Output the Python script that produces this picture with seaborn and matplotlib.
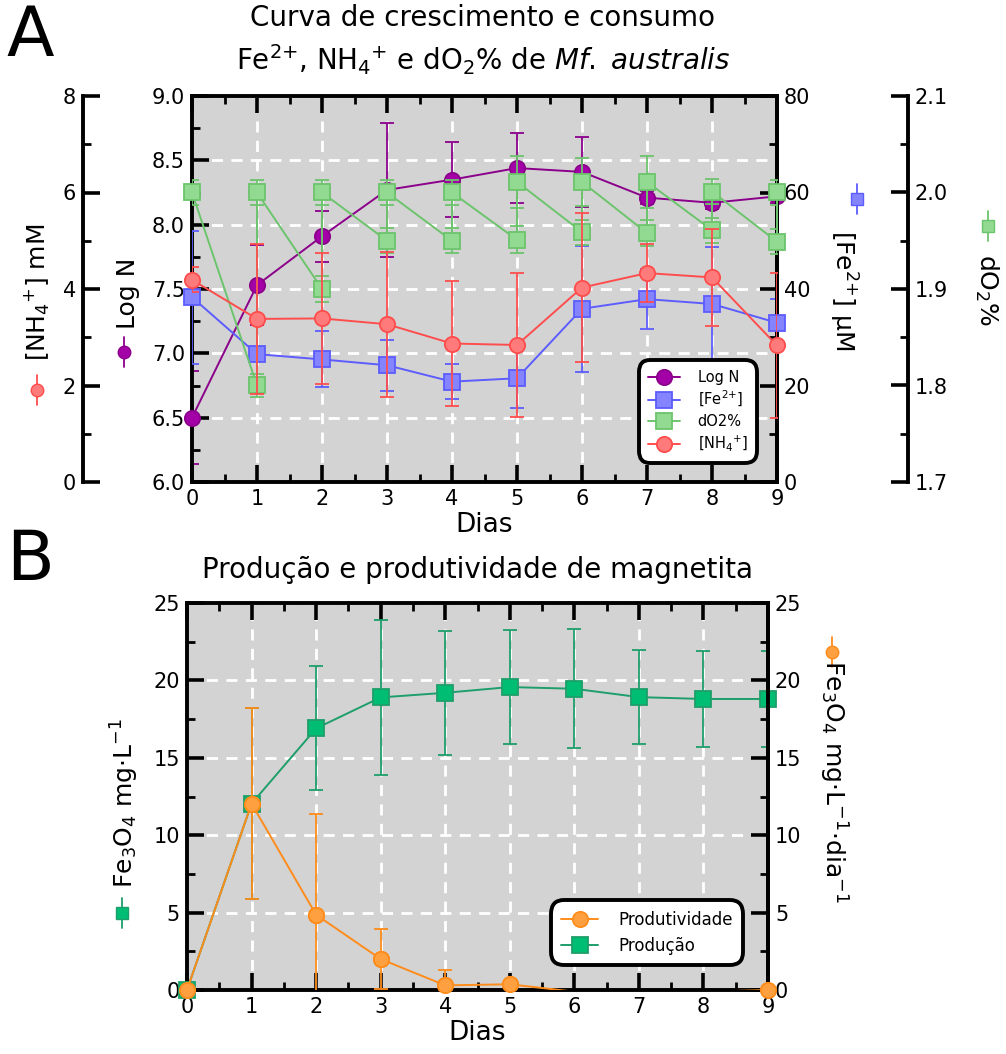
import numpy as np
import matplotlib
matplotlib.use("Agg")
import matplotlib.pyplot as plt
from matplotlib.lines import Line2D
from matplotlib.ticker import MultipleLocator, FormatStrFormatter
import seaborn as sns

# ---------------- data ----------------
dias = [0, 1, 2, 3, 4, 5, 6, 7, 8, 9]

log_n = [6.50, 7.53, 7.91, 8.27, 8.35, 8.44, 8.41, 8.21, 8.17, 8.22]
log_n_err = [0.36, 0.31, 0.20, 0.52, 0.29, 0.27, 0.27, 0.05, 0.05, 0.05]

fe = [38.3, 26.5, 25.4, 24.2, 20.8, 21.5, 35.9, 37.9, 36.9, 33.0]
fe_err = [13.8, 7.0, 5.8, 5.3, 3.6, 6.2, 13.0, 6.2, 11.8, 5.0]

# dissolved O2 read before and after each daily renewal
dias_o2 = [0, 1, 1, 2, 2, 3, 3, 4, 4, 5, 5, 6, 6, 7, 7, 8, 8, 9, 9]
do2 = [2.000, 1.800, 2.000, 1.900, 2.000, 1.950, 2.000, 1.950, 2.000,
       1.951, 2.011, 1.959, 2.011, 1.958, 2.011, 1.961, 2.001, 1.949, 2.000]
do2_err = [0.013, 0.012, 0.013, 0.013, 0.013, 0.013, 0.013, 0.013, 0.013,
           0.014, 0.027, 0.013, 0.025, 0.013, 0.027, 0.013, 0.013, 0.013, 0.013]

nh4 = [4.19, 3.38, 3.39, 3.27, 2.87, 2.84, 4.03, 4.33, 4.24, 2.83]
nh4_err = [0.26, 1.56, 1.35, 1.50, 1.30, 1.50, 1.55, 0.60, 1.00, 1.50]

producao = [0.0, 12.04, 16.9, 18.9, 19.2, 19.57, 19.46, 18.92, 18.8, 18.8]
producao_err = [0.0, 6.15, 4.0, 5.0, 4.0, 3.7, 3.85, 3.05, 3.1, 3.1]

produtividade = [0.0, 12.04, 4.86, 2.0, 0.3, 0.37, -0.11, -0.54, -0.12, 0.0]
produtividade_err = [0.0, 6.15, 6.5, 1.95, 1.0, 0.0, 0.0, 0.0, 0.0, 0.0]

# ---------------- style ----------------
sns.set_theme(style="ticks")
plt.rcParams["font.family"] = ["DejaVu Sans"]
plt.rcParams["mathtext.fontset"] = "dejavusans"
for key in ["text.color", "axes.labelcolor", "xtick.color", "ytick.color",
            "axes.edgecolor"]:
    plt.rcParams[key] = "black"

W, H = 1006, 1054
fig = plt.figure(figsize=(W / 100, H / 100), dpi=100, facecolor="white")

BG = "#d3d3d3"
C_LOG = ("#a400a8", "#8b008b")
C_FE = ("#8484ff", "#5c5cff")
C_O2 = ("#92d992", "#6cc46c")
C_NH = ("#ff7a7a", "#ff4d4d")
C_PROD = ("#00bd74", "#1e9e6a")
C_PTV = ("#ffa040", "#ff8c1a")

SPINE_W = 2.8
TICK_FS = 15


def fx(x):
    return x / W


def fy(y):
    return 1 - y / H


def style_ticks(ax, **kw):
    ax.tick_params(which="major", direction="in", length=12, width=2.6,
                   labelsize=TICK_FS, pad=5, colors="black", **kw)
    ax.tick_params(which="minor", direction="in", length=6, width=2.0, **kw)


def series(ax, x, y, err, colors, marker, label, sort=True):
    face, edge = colors
    ax.errorbar(x, y, yerr=err, fmt="none", ecolor=edge, elinewidth=1.3,
                capsize=5, capthick=1.3, zorder=2)
    sns.lineplot(x=x, y=y, ax=ax, estimator=None, sort=sort, legend=False,
                 color=edge, linewidth=1.4, marker=marker, markersize=11,
                 markerfacecolor=face, markeredgecolor=edge,
                 markeredgewidth=1.3, label=label, clip_on=False, zorder=3)


def side_label(text, x, y, rot, mx, my, colors, marker, size=18):
    face, edge = colors
    fig.text(fx(x), fy(y), text, rotation=rot, ha="center", va="center",
             fontsize=size, color="black")
    fig.add_artist(Line2D([fx(mx), fx(mx)], [fy(my - 15), fy(my + 15)],
                          transform=fig.transFigure, color=edge, lw=1.3))
    fig.add_artist(Line2D([fx(mx)], [fy(my)], transform=fig.transFigure,
                          marker=marker, ms=9, mfc=face, mec=edge, mew=1.0,
                          linestyle="none"))


def legend_box(ax, handles, labels, anchor, fs, spacing):
    leg = ax.legend(handles, labels, loc="lower right", bbox_to_anchor=anchor,
                    bbox_transform=ax.transAxes, borderaxespad=0, fontsize=fs,
                    frameon=True, fancybox=True, framealpha=1,
                    facecolor="white", edgecolor="black", handlelength=2.2,
                    handletextpad=1.2, labelspacing=spacing, borderpad=0.45)
    leg.get_frame().set_linewidth(2.8)
    leg.get_frame().set_boxstyle("round", pad=0.2, rounding_size=0.8)
    leg.set_zorder(10)
    return leg


# ================= panel A =================
axA = fig.add_axes([192 / W, 1 - 482 / H, 585 / W, 386 / H])
axA.set_facecolor(BG)
axA.set_axisbelow(True)
axA.set_xlim(0, 9)
axA.set_ylim(6.0, 9.0)
axA.xaxis.set_major_locator(MultipleLocator(1))
axA.xaxis.set_minor_locator(MultipleLocator(0.5))
axA.yaxis.set_major_locator(MultipleLocator(0.5))
axA.yaxis.set_minor_locator(MultipleLocator(0.25))
axA.yaxis.set_major_formatter(FormatStrFormatter("%.1f"))
axA.grid(True, which="major", color="white", linestyle=(0, (4, 3)), linewidth=2.0)
style_ticks(axA, top=True, bottom=True, left=True, right=False)
for s in axA.spines.values():
    s.set_linewidth(SPINE_W)
    s.set_color("black")
axA.set_xlabel("Dias", fontsize=19, labelpad=2)

axFe = axA.twinx()
axFe.set_ylim(0, 80)
axFe.yaxis.set_major_locator(MultipleLocator(20))
axFe.yaxis.set_minor_locator(MultipleLocator(10))
style_ticks(axFe, right=True, left=False)
for k in ["top", "bottom", "left"]:
    axFe.spines[k].set_visible(False)
axFe.spines["right"].set_linewidth(SPINE_W)

axO2 = axA.twinx()
axO2.set_ylim(1.7, 2.1)
axO2.spines["right"].set_position(("axes", 1.224))
axO2.yaxis.set_major_locator(MultipleLocator(0.1))
axO2.yaxis.set_minor_locator(MultipleLocator(0.05))
axO2.yaxis.set_major_formatter(FormatStrFormatter("%.1f"))
style_ticks(axO2, right=True, left=False)
for k in ["top", "bottom", "left"]:
    axO2.spines[k].set_visible(False)
axO2.spines["right"].set_linewidth(SPINE_W)

axNH = axA.twinx()
axNH.set_ylim(0, 8)
axNH.yaxis.tick_left()
axNH.spines["left"].set_position(("axes", -0.186))
axNH.spines["left"].set_visible(True)
axNH.yaxis.set_major_locator(MultipleLocator(2))
axNH.yaxis.set_minor_locator(MultipleLocator(1))
style_ticks(axNH, left=True, right=False)
for k in ["top", "bottom", "right"]:
    axNH.spines[k].set_visible(False)
axNH.spines["left"].set_linewidth(SPINE_W)

series(axA, dias, log_n, log_n_err, C_LOG, "o", "Log N")
series(axFe, dias, fe, fe_err, C_FE, "s", "[Fe$^{2{+}}$]")
series(axO2, dias_o2, do2, do2_err, C_O2, "s", "dO2%", sort=False)
series(axNH, dias, nh4, nh4_err, C_NH, "o", "[NH$_4$$^{+}$]")

hA = []
lA = []
for a in (axA, axFe, axO2, axNH):
    h, l = a.get_legend_handles_labels()
    hA += h
    lA += l
legend_box(axNH, hA, lA, (0.961, 0.057), 10.5, 0.32)

fig.text(fx(30), fy(36), "A", fontsize=50, ha="center", va="center")
fig.text(fx(483), fy(18), "Curva de crescimento e consumo", fontsize=20,
         ha="center", va="center")
fig.text(fx(483), fy(60),
         r"Fe$^{2{+}}$, NH$_4$$^{+}$ e dO$_2$% de $\mathit{Mf.}$ $\mathit{australis}$",
         fontsize=20, ha="center", va="center")

side_label("Log N", 128, 293, 90, 124, 352, C_LOG, "o")
side_label("[NH$_4$$^{+}$] mM", 37, 292, 90, 37, 390, C_NH, "o")
side_label("[Fe$^{2{+}}$] µM", 843, 290, 270, 857, 199, C_FE, "s")
side_label("dO$_2$%", 987, 290, 270, 988, 226, C_O2, "s")

# ================= panel B =================
axB = fig.add_axes([187 / W, 1 - 990 / H, 581 / W, 387 / H])
axB.set_facecolor(BG)
axB.set_axisbelow(True)
axB.set_xlim(0, 9)
axB.set_ylim(0, 25)
axB.xaxis.set_major_locator(MultipleLocator(1))
axB.xaxis.set_minor_locator(MultipleLocator(0.5))
axB.yaxis.set_major_locator(MultipleLocator(5))
axB.yaxis.set_minor_locator(MultipleLocator(2.5))
axB.grid(True, which="major", color="white", linestyle=(0, (4, 3)), linewidth=2.0)
style_ticks(axB, top=True, bottom=True, left=True, right=False)
for s in axB.spines.values():
    s.set_linewidth(SPINE_W)
    s.set_color("black")
axB.set_xlabel("Dias", fontsize=19, labelpad=2)

axP = axB.twinx()
axP.set_ylim(0, 25)
axP.yaxis.set_major_locator(MultipleLocator(5))
axP.yaxis.set_minor_locator(MultipleLocator(2.5))
style_ticks(axP, right=True, left=False)
for k in ["top", "bottom", "left"]:
    axP.spines[k].set_visible(False)
axP.spines["right"].set_linewidth(SPINE_W)

series(axB, dias, producao, producao_err, C_PROD, "s", "Produção")

# productivity: line clipped at zero; markers only on days at or above zero,
# drawn over the frame
face, edge = C_PTV
vis = [i for i, v in enumerate(produtividade) if v >= 0]
axP.errorbar(dias, produtividade, yerr=produtividade_err, fmt="none",
             ecolor=edge, elinewidth=1.3, capsize=5, capthick=1.3, zorder=2)
sns.lineplot(x=dias, y=produtividade, ax=axP, estimator=None, legend=False,
             color=edge, linewidth=1.4, marker="o", markersize=11,
             markevery=vis, markerfacecolor=face, markeredgecolor=edge,
             markeredgewidth=1.3, label="Produtividade", zorder=3)
axP.plot([dias[i] for i in vis], [produtividade[i] for i in vis], "o",
         ms=11, mfc=face, mec=edge, mew=1.3, clip_on=False, zorder=4)

h1, l1 = axP.get_legend_handles_labels()
h2, l2 = axB.get_legend_handles_labels()
legend_box(axP, h1 + h2, l1 + l2, (0.952, 0.072), 12, 0.45)

fig.text(fx(30), fy(560), "B", fontsize=50, ha="center", va="center")
fig.text(fx(477), fy(570), "Produção e produtividade de magnetita",
         fontsize=20, ha="center", va="center")

side_label("Fe$_3$O$_4$ mg·L$^{-1}$", 125, 803, 90, 122, 913, C_PROD, "s")
side_label("Fe$_3$O$_4$ mg·L$^{-1}$·dia$^{-1}$", 833, 781, 270, 832, 652, C_PTV, "o")

fig.savefig("out.png", dpi=100, facecolor="white")
